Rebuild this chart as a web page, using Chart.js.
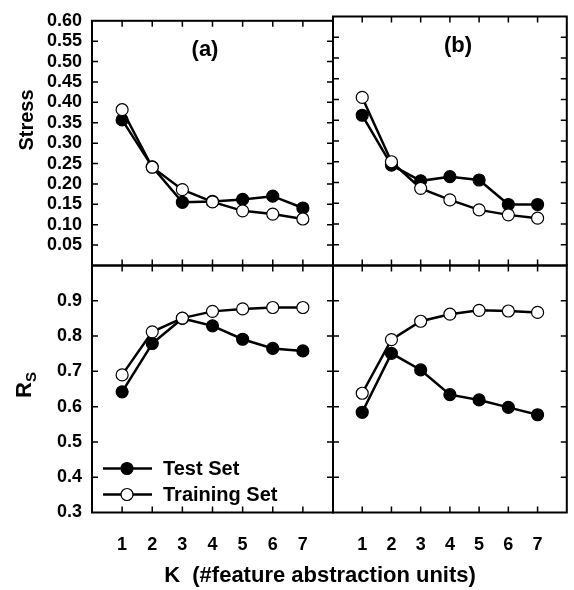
<!DOCTYPE html>
<html>
<head>
<meta charset="utf-8">
<script src="https://cdn.jsdelivr.net/npm/chart.js@4"></script>
<style>
  body { margin: 0; background: #fff; }
  #wrap { position: relative; width: 574px; height: 590px; overflow: hidden; font-family: "Liberation Sans", Arial, sans-serif; }
  canvas { position: absolute; left: 0; top: 0; }
  .lbl { position: absolute; font-weight: bold; color: #000; white-space: nowrap; }
</style>
</head>
<body>
<div id="wrap">
  <canvas id="c1" width="574" height="590"></canvas>
  <canvas id="c2" width="574" height="590"></canvas>
  <canvas id="c3" width="574" height="590"></canvas>
  <canvas id="c4" width="574" height="590"></canvas>
  <div class="lbl" style="font-size:20px; left:26px; top:120px; transform: translate(-50%,-50%) rotate(-90deg);">Stress</div>
  <div class="lbl" style="font-size:22px; left:25px; top:385px; transform: translate(-50%,-50%) rotate(-90deg);">R<sub style="font-size:15px;">S</sub></div>
  <div class="lbl" style="font-size:22px; left:320px; top:575px; transform: translate(-50%,-50%);">K&nbsp;&nbsp;(#feature abstraction units)</div>
</div>
<script>
// data
var kUnits = [1, 2, 3, 4, 5, 6, 7];

var stressTestA  = [0.357, 0.242, 0.155, 0.157, 0.162, 0.170, 0.141];
var stressTrainA = [0.382, 0.241, 0.186, 0.156, 0.134, 0.126, 0.114];
var stressTestB  = [0.362, 0.242, 0.204, 0.214, 0.206, 0.147, 0.147];
var stressTrainB = [0.405, 0.250, 0.186, 0.158, 0.134, 0.122, 0.114];

var rsTestA  = [0.642, 0.779, 0.850, 0.829, 0.791, 0.765, 0.758];
var rsTrainA = [0.690, 0.812, 0.851, 0.870, 0.877, 0.881, 0.881];
var rsTestB  = [0.584, 0.751, 0.704, 0.634, 0.619, 0.598, 0.577];
var rsTrainB = [0.638, 0.790, 0.842, 0.862, 0.873, 0.871, 0.867];

var stressTicks = [0.05, 0.10, 0.15, 0.20, 0.25, 0.30, 0.35, 0.40, 0.45, 0.50, 0.55, 0.60];
var rsTicks = [0.3, 0.4, 0.5, 0.6, 0.7, 0.8, 0.9];

var seriesNames = ['Test Set', 'Training Set'];

var tickFont = { family: 'Liberation Sans', size: 18, weight: 'bold' };

function pts(arr) {
  return kUnits.map(function (k, i) { return { x: k, y: arr[i] }; });
}

function datasets(test, train) {
  return [{
    label: seriesNames[1],
    data: pts(train),
    borderColor: '#000',
    borderWidth: 2.5,
    pointRadius: 6,
    pointBackgroundColor: '#fff',
    pointBorderColor: '#000',
    pointBorderWidth: 1.2,
    order: 1
  }, {
    label: seriesNames[0],
    data: pts(test),
    borderColor: '#000',
    borderWidth: 2.5,
    pointRadius: 6,
    pointBackgroundColor: '#000',
    pointBorderColor: '#000',
    pointBorderWidth: 1.2,
    order: 2
  }];
}

// frame + inward ticks + panel letter + legend
var framePlugin = {
  id: 'frame',
  afterDraw: function (chart) {
    var o = chart.options.plugins.frame;
    var a = chart.chartArea;
    var ctx = chart.ctx;
    var xs = chart.scales.x, ys = chart.scales.y;
    ctx.save();
    ctx.strokeStyle = '#000';
    ctx.lineWidth = 1.5;
    ctx.beginPath();
    kUnits.forEach(function (k) {
      var px = xs.getPixelForValue(k);
      ctx.moveTo(px, a.bottom); ctx.lineTo(px, a.bottom - 6);
      ctx.moveTo(px, a.top); ctx.lineTo(px, a.top + 6);
    });
    o.yTicks.forEach(function (v) {
      if (v <= ys.min + 1e-9 || v >= ys.max - 1e-9) return;
      var py = ys.getPixelForValue(v);
      ctx.moveTo(a.left, py); ctx.lineTo(a.left + 6, py);
      ctx.moveTo(a.right, py); ctx.lineTo(a.right - 6, py);
    });
    ctx.stroke();
    ctx.lineWidth = 2;
    ctx.strokeRect(a.left, a.top, a.right - a.left, a.bottom - a.top);

    if (o.letter) {
      ctx.fillStyle = '#000';
      ctx.font = 'bold 22px "Liberation Sans"';
      ctx.textAlign = 'center';
      ctx.textBaseline = 'middle';
      ctx.fillText(o.letter, a.left + o.letterDx, a.top + 29);
    }

    if (o.legend) {
      var rows = [chart.data.datasets[1], chart.data.datasets[0]];
      rows.forEach(function (ds, i) {
        var y = a.bottom - 44 + i * 26;
        ctx.lineWidth = 2.5;
        ctx.beginPath();
        ctx.moveTo(a.left + 11, y); ctx.lineTo(a.left + 60, y);
        ctx.stroke();
        ctx.beginPath();
        ctx.arc(a.left + 35, y, 6, 0, Math.PI * 2);
        ctx.fillStyle = ds.pointBackgroundColor;
        ctx.fill();
        ctx.lineWidth = 1.2;
        ctx.stroke();
        ctx.fillStyle = '#000';
        ctx.font = 'bold 20px "Liberation Sans"';
        ctx.textAlign = 'left';
        ctx.textBaseline = 'middle';
        ctx.fillText(ds.label, a.left + 71, y + 1);
      });
    }
    ctx.restore();
  }
};

function makePanel(id, cfg) {
  new Chart(document.getElementById(id), {
    type: 'line',
    data: { datasets: datasets(cfg.test, cfg.train) },
    plugins: [framePlugin],
    options: {
      responsive: false,
      animation: false,
      devicePixelRatio: 1,
      layout: { padding: cfg.padding },
      plugins: {
        legend: { display: false },
        tooltip: { enabled: false },
        frame: { yTicks: cfg.yTicks, letter: cfg.letter, letterDx: cfg.letterDx, legend: cfg.legend }
      },
      scales: {
        x: {
          type: 'linear',
          min: 0, max: 8,
          display: cfg.showX,
          grid: { display: false, drawTicks: false },
          border: { display: false },
          afterBuildTicks: function (s) { s.ticks = kUnits.map(function (k) { return { value: k }; }); },
          afterFit: function (s) { s.height = cfg.showX ? 77.5 : 0; },
          ticks: { autoSkip: false, maxRotation: 0, padding: 22, color: '#000', font: tickFont }
        },
        y: {
          min: cfg.yMin, max: cfg.yMax,
          display: cfg.showY,
          grid: { display: false, drawTicks: false },
          border: { display: false },
          afterBuildTicks: function (s) {
            s.ticks = cfg.yTicks.map(function (v) { return { value: v }; });
          },
          afterFit: function (s) { s.width = cfg.showY ? 92 : 0; },
          ticks: {
            autoSkip: false, padding: 10, color: '#000', font: tickFont,
            callback: function (v) { return v.toFixed(cfg.dec); }
          }
        }
      }
    }
  });
}

makePanel('c1', {
  test: stressTestA, train: stressTrainA, yMin: 0, yMax: 0.6, yTicks: stressTicks, dec: 2,
  showX: false, showY: true, letter: '(a)', letterDx: 113,
  padding: { left: 0, top: 16.5, right: 241, bottom: 324.5 }
});
makePanel('c2', {
  test: stressTestB, train: stressTrainB, yMin: 0, yMax: 0.6, yTicks: stressTicks, dec: 2,
  showX: false, showY: false, letter: '(b)', letterDx: 125,
  padding: { left: 333, top: 16.5, right: 1, bottom: 324.5 }
});
makePanel('c3', {
  test: rsTestA, train: rsTrainA, yMin: 0.3, yMax: 1.0, yTicks: rsTicks, dec: 1,
  showX: true, showY: true, legend: true,
  padding: { left: 0, top: 265.5, right: 241, bottom: 0 }
});
makePanel('c4', {
  test: rsTestB, train: rsTrainB, yMin: 0.3, yMax: 1.0, yTicks: rsTicks, dec: 1,
  showX: true, showY: false,
  padding: { left: 333, top: 265.5, right: 1, bottom: 0 }
});
</script>
</body>
</html>
